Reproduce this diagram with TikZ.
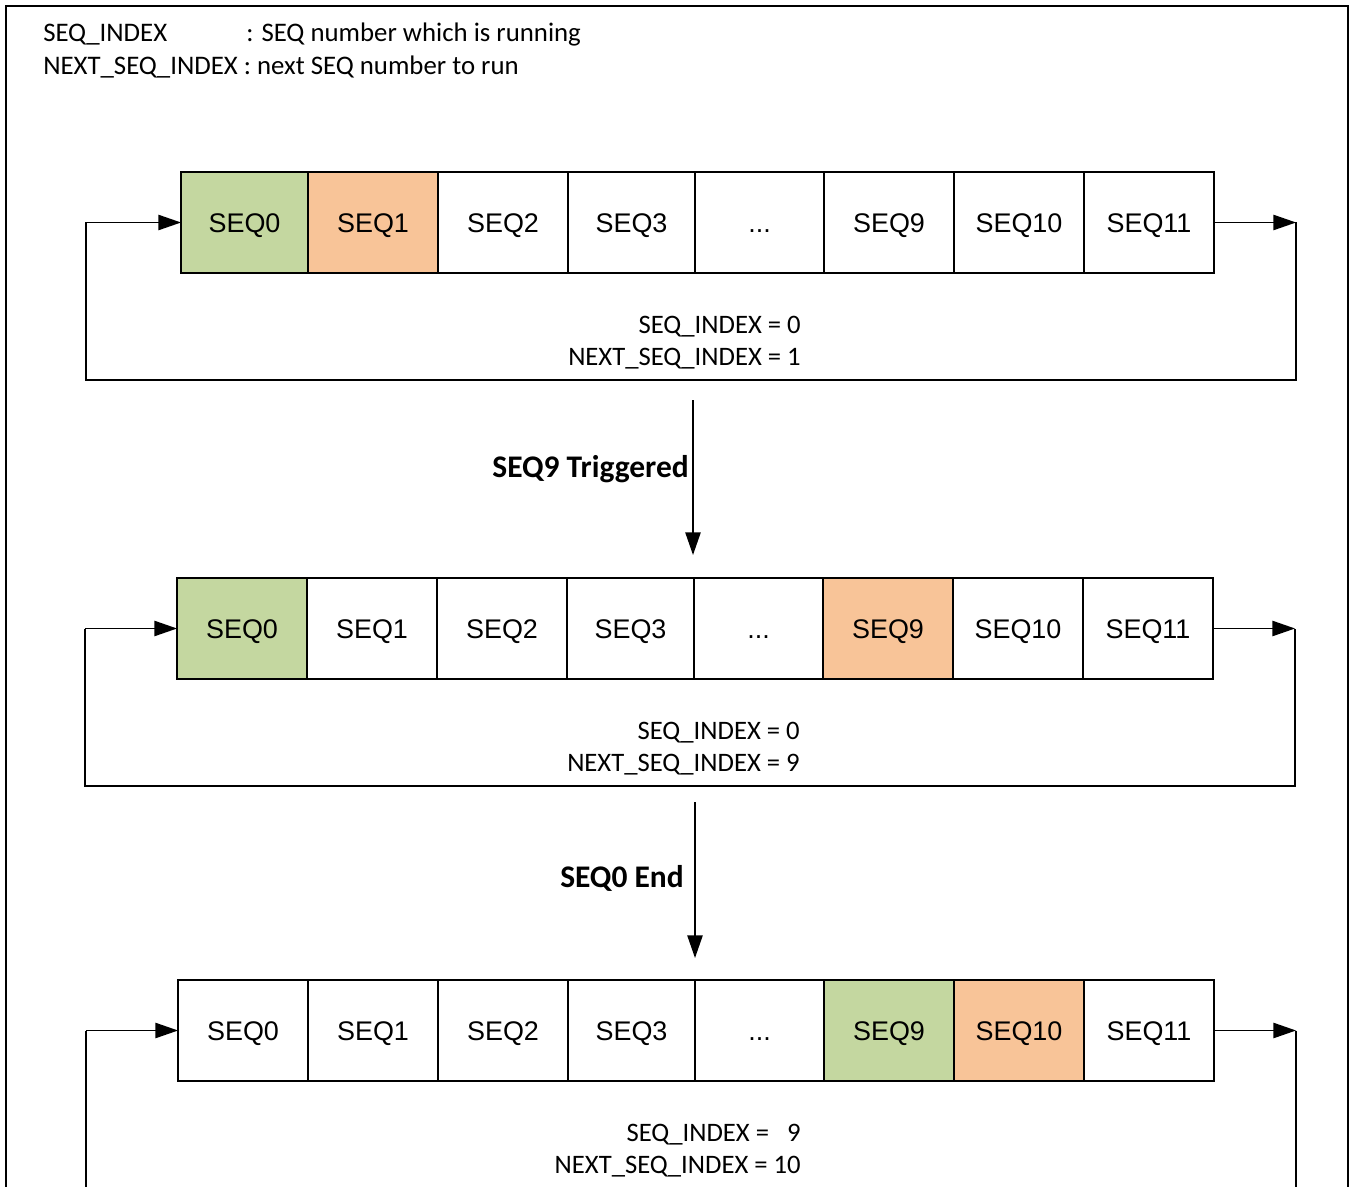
\documentclass[tikz,border=0pt]{standalone}
\usepackage{fontspec}
\setmainfont{Carlito}
\newfontfamily\arialf{Liberation Sans}
\usetikzlibrary{arrows.meta}
\definecolor{seqgreen}{RGB}{196,215,160}
\definecolor{seqorange}{RGB}{248,196,152}
\newcommand\mydots{...}
\tikzset{
  seqbox/.style={draw=black, line width=1.5pt, inner sep=0pt, outer sep=0pt,
    minimum height=75.75pt, text height=14.5pt, text depth=0pt,
    font=\arialf\fontsize{20.2}{24}\selectfont},
  loopline/.style={draw=black, line width=1.1pt},
  arr/.style={loopline, -{Triangle[length=17pt,width=11.5pt]}},
  idx/.style={anchor=east, inner sep=0pt, font=\fontsize{20}{24}\selectfont},
  hdr/.style={anchor=west, inner sep=0pt, font=\fontsize{20.1}{24}\selectfont},
  evt/.style={anchor=east, inner sep=0pt, font=\bfseries\fontsize{23.6}{28}\selectfont},
}
\begin{document}
\begin{tikzpicture}[x=0.75pt,y=-0.75pt]
\useasboundingbox (0,0) rectangle (1355,1187);
% frame
\draw[line width=1.5pt] (6,1187) -- (6,6) -- (1348,6) -- (1348,1187);
% header
\node[hdr] (h1) at (43,35) {SEQ\_INDEX};
\node[hdr] (h1b) at (246,35) {: SEQ number which is running};
\node[hdr] (h2) at (43,67) {NEXT\_SEQ\_INDEX : next SEQ number to run};

% row 1
\foreach \a/\b/\n/\lbl/\c in {181/308/0/SEQ0/seqgreen, 308/438/1/SEQ1/seqorange, 438/568/2/SEQ2/white,
  568/695/3/SEQ3/white, 695/824/4/\mydots/white, 824/954/5/SEQ9/white, 954/1084/6/SEQ10/white, 1084/1214/7/SEQ11/white}
  \node[seqbox, fill=\c, minimum width={(\b-\a)*0.75pt}] (ra\n) at ({(\a+\b)/2},222.5) {\lbl};
\coordinate (La) at (86,222.5);
\coordinate (Ra) at (1296,222.5);
\coordinate (Ba) at (86,380);
\draw[arr] (La) -- (ra0.west);
\draw[arr] (ra7.east) -- (Ra);
\draw[loopline] (La) -- (Ba) -| (Ra);
\node[idx] (ia1) at (801,327) {SEQ\_INDEX = 0};
\node[idx] (ia2) at (801,359) {NEXT\_SEQ\_INDEX = 1};

% transition 1
\coordinate (t1s) at (693,400);
\coordinate (t1e) at (693,555);
\draw[arr] (t1s) -- (t1e);
\node[evt] (e1) at (689,469) {SEQ9 Triggered};

% row 2
\foreach \a/\b/\n/\lbl/\c in {177/307/0/SEQ0/seqgreen, 307/437/1/SEQ1/white, 437/567/2/SEQ2/white,
  567/694/3/SEQ3/white, 694/823/4/\mydots/white, 823/953/5/SEQ9/seqorange, 953/1083/6/SEQ10/white, 1083/1213/7/SEQ11/white}
  \node[seqbox, fill=\c, minimum width={(\b-\a)*0.75pt}] (rb\n) at ({(\a+\b)/2},628.5) {\lbl};
\coordinate (Lb) at (85,628.5);
\coordinate (Rb) at (1295,628.5);
\coordinate (Bb) at (85,786);
\draw[arr] (Lb) -- (rb0.west);
\draw[arr] (rb7.east) -- (Rb);
\draw[loopline] (Lb) -- (Bb) -| (Rb);
\node[idx] (ib1) at (800,733) {SEQ\_INDEX = 0};
\node[idx] (ib2) at (800,765) {NEXT\_SEQ\_INDEX = 9};

% transition 2
\coordinate (t2s) at (695,802);
\coordinate (t2e) at (695,958);
\draw[arr] (t2s) -- (t2e);
\node[evt] (e2) at (684,878) {SEQ0 End};

% row 3
\foreach \a/\b/\n/\lbl/\c in {178/308/0/SEQ0/white, 308/438/1/SEQ1/white, 438/568/2/SEQ2/white,
  568/695/3/SEQ3/white, 695/824/4/\mydots/white, 824/954/5/SEQ9/seqgreen, 954/1084/6/SEQ10/seqorange, 1084/1214/7/SEQ11/white}
  \node[seqbox, fill=\c, minimum width={(\b-\a)*0.75pt}] (rc\n) at ({(\a+\b)/2},1030.5) {\lbl};
\coordinate (Lc) at (86,1030.5);
\coordinate (Rc) at (1296,1030.5);
\coordinate (Blc) at (86,1187);
\coordinate (Brc) at (1296,1187);
\draw[arr] (Lc) -- (rc0.west);
\draw[arr] (rc7.east) -- (Rc);
\draw[loopline] (Lc) -- (Blc);
\draw[loopline] (Rc) -- (Brc);
\node[idx] (ic1) at (801,1135) {SEQ\_INDEX =\ \ \ 9};
\node[idx] (ic2) at (801,1167) {NEXT\_SEQ\_INDEX = 10};
\end{tikzpicture}
\end{document}
